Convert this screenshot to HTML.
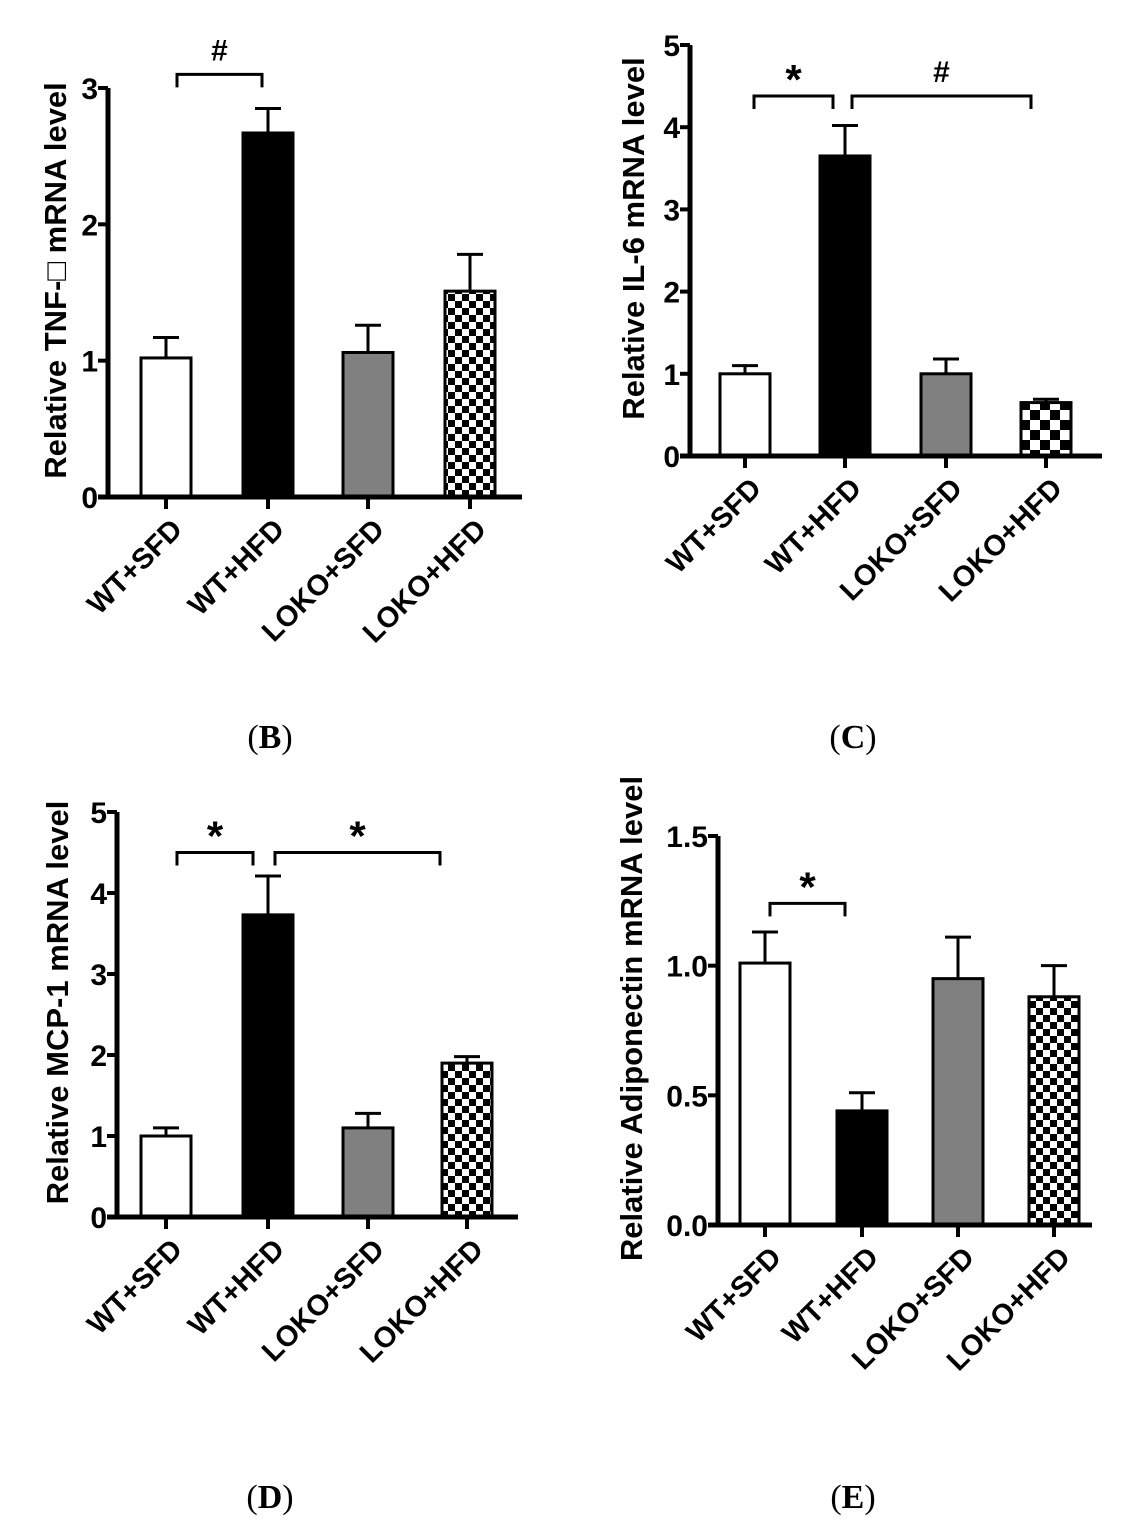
<!DOCTYPE html>
<html><head><meta charset="utf-8">
<style>
html,body{margin:0;padding:0;background:#fff;}
svg{display:block;font-family:"Liberation Sans",Arial,sans-serif;}
.lbl{font-family:"Liberation Serif",serif;font-size:34px;}
</style></head>
<body>
<svg id="fig" width="1127" height="1537" viewBox="0 0 1127 1537">
<defs>
<pattern id="chk" width="14" height="14" patternUnits="userSpaceOnUse"><rect width="14" height="14" fill="#fff"/><rect width="7" height="7" fill="#000"/><rect x="7" y="7" width="7" height="7" fill="#000"/></pattern>
<pattern id="chk2" width="20" height="20" patternUnits="userSpaceOnUse"><rect width="20" height="20" fill="#fff"/><rect width="10" height="10" fill="#000"/><rect x="10" y="10" width="10" height="10" fill="#000"/></pattern>
</defs>
<text class="lbl" x="270" y="748" text-anchor="middle">(<tspan font-weight="bold">B</tspan>)</text>
<text class="lbl" x="853" y="748" text-anchor="middle">(<tspan font-weight="bold">C</tspan>)</text>
<text class="lbl" x="270" y="1508" text-anchor="middle">(<tspan font-weight="bold">D</tspan>)</text>
<text class="lbl" x="853" y="1508" text-anchor="middle">(<tspan font-weight="bold">E</tspan>)</text>
</svg>
<script>
const categories = ["WT+SFD","WT+HFD","LOKO+SFD","LOKO+HFD"];
const tnfValues = [1.02, 2.67, 1.06, 1.51];
const tnfErrors = [0.15, 0.18, 0.20, 0.27];
const tnfTicks = ["0","1","2","3"];
const il6Values = [1.00, 3.65, 1.00, 0.65];
const il6Errors = [0.10, 0.37, 0.18, 0.04];
const il6Ticks = ["0","1","2","3","4","5"];
const mcpValues = [1.00, 3.73, 1.10, 1.90];
const mcpErrors = [0.10, 0.48, 0.18, 0.08];
const mcpTicks = ["0","1","2","3","4","5"];
const adipoValues = [1.01, 0.44, 0.95, 0.88];
const adipoErrors = [0.12, 0.07, 0.16, 0.12];
const adipoTicks = ["0.0","0.5","1.0","1.5"];

const NS="http://www.w3.org/2000/svg";
const svg=document.getElementById('fig');
function mk(tag,at,parent){const e=document.createElementNS(NS,tag);for(const k in at)e.setAttribute(k,at[k]);(parent||svg).appendChild(e);return e;}

const panels=[
 {id:'b',vals:tnfValues,errs:tnfErrors,ticks:tnfTicks,max:3,ax:108,x1:522,y0:497,yTop:88,centers:[166,268,368,470],ylab:"Relative TNF-\u25a1 mRNA level",ylx:66,chk:'chk',
  brackets:[{v:3.1,s:"#",x1:177,x2:262}]},
 {id:'c',vals:il6Values,errs:il6Errors,ticks:il6Ticks,max:5,ax:690,x1:1102,y0:456,yTop:45,centers:[745,845,946,1046],ylab:"Relative IL-6 mRNA level",ylx:644,chk:'chk2',
  brackets:[{v:4.38,s:"*",x1:754,x2:833},{v:4.38,s:"#",x1:852,x2:1031}]},
 {id:'d',vals:mcpValues,errs:mcpErrors,ticks:mcpTicks,max:5,ax:117,x1:518,y0:1217,yTop:812,centers:[166,268,368,467],ylab:"Relative MCP-1 mRNA level",ylx:68,chk:'chk',
  brackets:[{v:4.5,s:"*",x1:177,x2:253},{v:4.5,s:"*",x1:275,x2:440}]},
 {id:'e',vals:adipoValues,errs:adipoErrors,ticks:adipoTicks,max:1.5,ax:718,x1:1092,y0:1225,yTop:836,centers:[765,862,958,1054],ylab:"Relative Adiponectin mRNA level",ylx:642,chk:'chk',
  brackets:[{v:1.24,s:"*",x1:770,x2:845}]}
];
const fills=['#fff','#000','#808080',null];
panels.forEach(p=>{
  const g=mk('g',{});
  
  
  const y=v=>p.y0-(v/p.max)*(p.y0-p.yTop);
  const bw=50;
  p.vals.forEach((v,i)=>{
    const cx=p.centers[i];
    const r=mk('rect',{x:cx-bw/2,y:y(v),width:bw,height:p.y0-y(v),fill:fills[i]||('url(#'+p.chk+')'),stroke:'#000','stroke-width':3},g);
    
    
    const e=mk('path',{d:`M${cx} ${y(v)}V${y(v+p.errs[i])}M${cx-13} ${y(v+p.errs[i])}H${cx+13}`,stroke:'#000','stroke-width':3,fill:'none'},g);
    
    
    mk('line',{x1:cx,x2:cx,y1:p.y0,y2:p.y0+12,stroke:'#000','stroke-width':4},g);
    const lb=mk('text',{x:0,y:0,'font-size':29,'font-weight':'bold','text-anchor':'end',transform:`translate(${cx+18},${p.y0+34}) rotate(-45)`},g);
    lb.textContent=categories[i];
    
    
  });
  const ax=mk('path',{d:`M${p.ax} ${p.yTop}V${p.y0}M${p.ax-10} ${p.y0}H${p.x1}`,stroke:'#000','stroke-width':5,fill:'none'},g);
  
  
  p.ticks.forEach((t,i)=>{
    const v=parseFloat(t);
    mk('line',{x1:p.ax-10,x2:p.ax,y1:y(v),y2:y(v),stroke:'#000','stroke-width':4},g);
    const tl=mk('text',{x:p.ax-10,y:y(v)+11,'font-size':30,'font-weight':'bold','text-anchor':'end'},g);
    tl.textContent=t;
    
    
  });
  const yl=mk('text',{x:0,y:0,'font-size':31,'font-weight':'bold','text-anchor':'middle',transform:`translate(${p.ylx},${(p.y0+p.yTop)/2-12}) rotate(-90)`},g);
  yl.textContent=p.ylab;
  
  
  p.brackets.forEach(b=>{
    const by=y(b.v);
    const br=mk('path',{d:`M${b.x1} ${by+13}V${by}H${b.x2}V${by+13}`,stroke:'#000','stroke-width':3,fill:'none'},g);
    
    
    const st=mk('text',{x:(b.x1+b.x2)/2,y:b.s==='*'?by-2:by-14,'font-size':b.s==='*'?42:30,'font-weight':'bold','text-anchor':'middle'},g);
    st.textContent=b.s;
    
    
  });
});
</script>
</body></html>
